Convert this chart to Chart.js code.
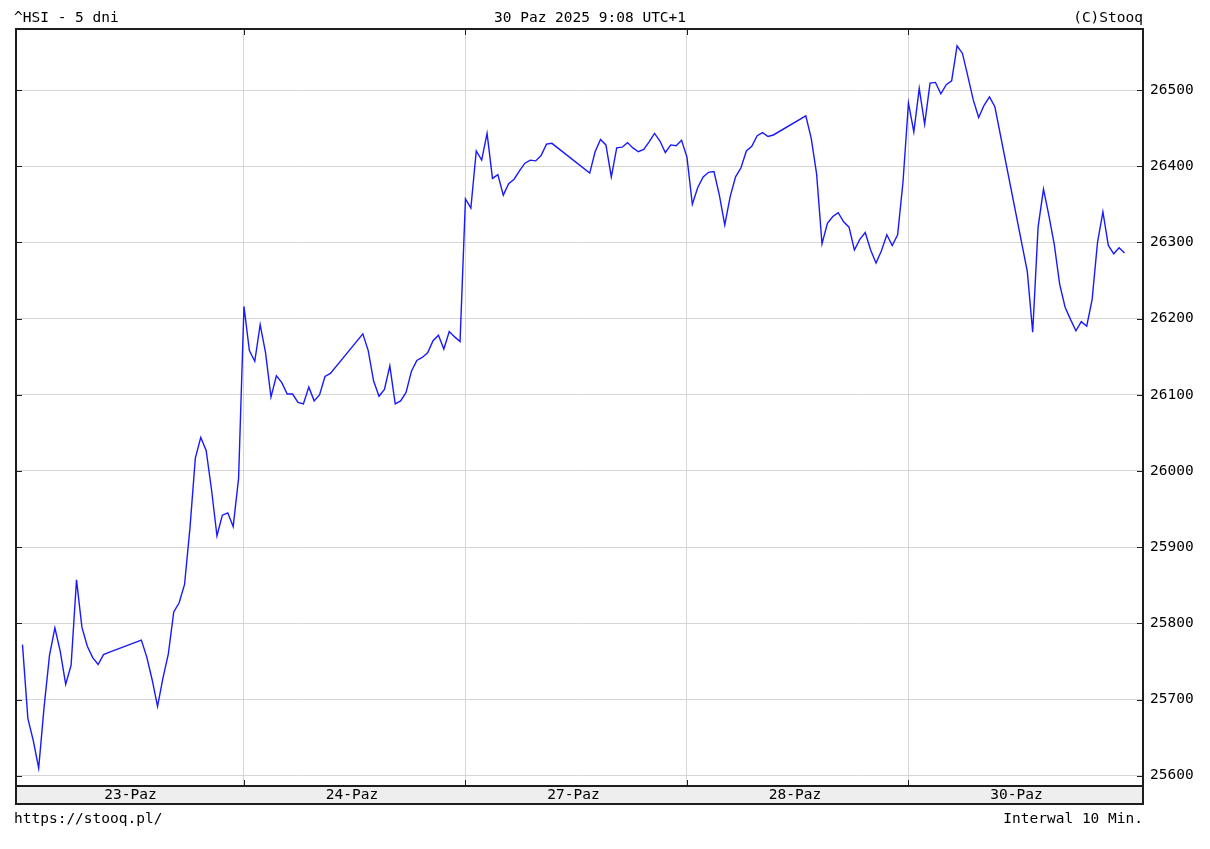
<!DOCTYPE html>
<html>
<head>
<meta charset="utf-8">
<script src="https://cdn.jsdelivr.net/npm/chart.js@4.4.1/dist/chart.umd.min.js"></script>
<style>
  html, body { margin: 0; padding: 0; background: #fff; }
  #wrap { position: relative; width: 1210px; height: 849px; }
  canvas { position: absolute; left: 0; top: 0; }
  .t { position: absolute; font-family: "DejaVu Sans Mono", monospace; font-size: 14.5px; line-height: 15px; color: #000; white-space: pre; }
</style>
</head>
<body>
<div id="wrap">
  <canvas id="myChart" width="1210" height="849"></canvas>
  <div class="t" style="left:14px;top:10px">^HSI - 5 dni</div>
  <div class="t" style="left:494px;top:10px">30 Paz 2025 9:08 UTC+1</div>
  <div class="t" style="right:67px;top:10px">(C)Stooq</div>
  <div class="t" style="left:14px;top:811px">https://stooq.pl/</div>
  <div class="t" style="right:67px;top:811px">Interwal 10 Min.</div>
</div>
<script>
// trading days shown
const dayLabels = ['23-Paz', '24-Paz', '27-Paz', '28-Paz', '30-Paz'];

// 10 min bars, morning 09:20-12:00, afternoon 13:00-16:00
const sessionTimes = [
  '09:20','09:30','09:40','09:50','10:00','10:10','10:20','10:30','10:40','10:50',
  '11:00','11:10','11:20','11:30','11:40','11:50','12:00',
  '13:00','13:10','13:20','13:30','13:40','13:50','14:00','14:10','14:20','14:30',
  '14:40','14:50','15:00','15:10','15:20','15:30','15:40','15:50','16:00'
];

// ^HSI values per day (one per session time, null = no bar)
const d23 = [25772,25675,25646,25610,25690,25758,25794,25763,25720,25745,25857,25795,25770,25755,25746,25759,25762,
             25778,25756,25726,25691,25728,25760,25815,25827,25851,25925,26017,26044,26027,25975,25915,25942,25945,25927,25990];
const d24 = [26216,26158,26144,26192,26155,26097,26125,26116,26101,26101,26090,26088,26110,26092,26100,26124,26128,
             26180,26158,26118,26098,26107,26138,26088,26092,26103,26131,26145,26149,26155,26171,26178,26160,26183,26176,26170];
const d27 = [26357,26345,26420,26408,26443,26384,26389,26362,26377,26383,26394,26404,26408,26407,26414,26429,26430,
             null,26391,26419,26435,26428,26386,26424,26425,26431,26424,26419,26422,26432,26443,26433,26418,26428,26427,26434];
const d28 = [26412,26350,26372,26386,26392,26393,26362,26323,26360,26386,26398,26420,26426,26440,26444,26439,26441,
             26466,26437,26390,26298,26325,26334,26339,26327,26320,26290,26304,26313,26290,26273,26289,26310,26296,26310,26380];
const d30 = [26483,26445,26502,26455,26509,26510,26495,26507,26512,26558,26548,26518,26487,26464,26480,26491,26478,
             26262,26182,26320,26370,26335,26297,26245,26215,26199,26184,26196,26190,26225,26300,26340,26296,26285,26293,26286];

const yTicks = [25600, 25700, 25800, 25900, 26000, 26100, 26200, 26300, 26400, 26500];

const days = [d23, d24, d27, d28, d30];
const SLOTS_PER_DAY = 41;

function slotOf(t) {
  const [h, m] = t.split(':').map(Number);
  return (h * 60 + m - 560) / 10;
}

let points = [];
days.forEach((vals, d) => {
  vals.forEach((v, i) => {
    if (v !== null) points.push({ x: d * SLOTS_PER_DAY + slotOf(sessionTimes[i]), y: v });
  });
});

const dayStarts = dayLabels.map((_, d) => d * SLOTS_PER_DAY);
const boundaries = dayStarts.slice(1);
const labelPos = dayStarts.map(s => s + 20);

const stooqFont = { family: 'DejaVu Sans Mono', size: 14.5 };

// frame, grey date band and small inward ticks
const frame = {
  id: 'frame',
  beforeDraw(chart) {
    const { ctx, chartArea: a } = chart;
    const xs = chart.scales.x;
    ctx.save();
    ctx.fillStyle = '#eeeeee';
    ctx.fillRect(a.left, a.bottom, a.right - a.left, xs.bottom - a.bottom);
    ctx.restore();
  },
  afterDraw(chart) {
    const { ctx, chartArea: a } = chart;
    const xs = chart.scales.x, ys = chart.scales.y;
    ctx.save();
    ctx.strokeStyle = '#1e1e1e';
    ctx.lineWidth = 1;
    ctx.beginPath();
    yTicks.forEach(v => {
      const y = Math.round(ys.getPixelForValue(v)) + 0.5;
      ctx.moveTo(a.left, y); ctx.lineTo(a.left + 6, y);
      ctx.moveTo(a.right - 6, y); ctx.lineTo(a.right, y);
    });
    boundaries.forEach(v => {
      const x = Math.round(xs.getPixelForValue(v)) + 0.5;
      ctx.moveTo(x, a.top); ctx.lineTo(x, a.top + 6);
      ctx.moveTo(x, a.bottom - 6); ctx.lineTo(x, a.bottom);
    });
    ctx.stroke();
    ctx.lineWidth = 2;
    ctx.strokeRect(a.left, a.top, a.right - a.left, a.bottom - a.top);
    ctx.strokeRect(a.left, a.bottom, a.right - a.left, xs.bottom - a.bottom);
    ctx.restore();
  }
};

new Chart(document.getElementById('myChart'), {
  type: 'line',
  data: {
    datasets: [{
      data: points,
      borderColor: 'rgb(25,25,255)',
      borderWidth: 1.4,
      pointRadius: 0,
      tension: 0,
      fill: false
    }]
  },
  options: {
    responsive: false,
    animation: false,
    events: [],
    layout: { padding: { left: 16, top: 29, right: 0, bottom: 45 } },
    plugins: { legend: { display: false }, tooltip: { enabled: false } },
    scales: {
      x: {
        type: 'linear',
        min: -1.2,
        max: 207.42,
        afterFit: s => { s.height = 18; },
        afterBuildTicks: s => {
          s.ticks = boundaries.concat(labelPos).sort((a, b) => a - b).map(v => ({ value: v }));
        },
        grid: {
          drawTicks: false,
          color: c => (c.tick && boundaries.includes(c.tick.value)) ? '#d6d6d6' : 'rgba(0,0,0,0)',
          lineWidth: 1
        },
        border: { display: false },
        ticks: {
          autoSkip: false,
          maxRotation: 0,
          padding: 1,
          color: '#000',
          font: stooqFont,
          callback: v => {
            const i = labelPos.indexOf(v);
            return i >= 0 ? dayLabels[i] : '';
          }
        }
      },
      y: {
        position: 'right',
        min: 25586.5,
        max: 26580.1,
        afterFit: s => { s.width = 67; },
        afterBuildTicks: s => { s.ticks = yTicks.map(v => ({ value: v })); },
        grid: { drawTicks: false, color: '#d6d6d6', lineWidth: 1 },
        border: { display: false },
        ticks: { padding: 7, color: '#000', font: stooqFont, callback: v => String(v) }
      }
    }
  },
  plugins: [frame]
});
</script>
</body>
</html>
